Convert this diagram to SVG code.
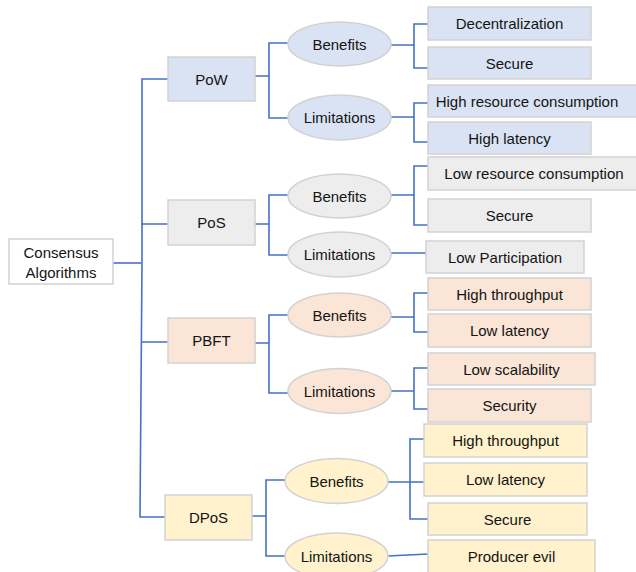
<svg xmlns="http://www.w3.org/2000/svg" width="636" height="572" viewBox="0 0 636 572">
<style>
  text { font-family: "Liberation Sans", Arial, sans-serif; font-size: 15px; fill: #141414; text-anchor: middle; dominant-baseline: central; }
  .n { stroke: #d2d2d2; stroke-width: 1.5; }
  .root { fill: #ffffff; }
  .pow { fill: #dae3f3; }
  .pos { fill: #ededed; }
  .pbft { fill: #fbe5d6; }
  .dpos { fill: #fff2cc; }
  .c { fill: none; stroke: #4472c4; stroke-width: 1.6; }
</style>
<rect width="636" height="572" fill="#ffffff"/>
<g id="connectors">
  <path class="c" d="M113,263 H141"/>
  <path class="c" d="M168,79 H142 V263 L140,517 H165"/>
  <path class="c" d="M141,224 H168 M141,342 H168"/>
  <path class="c" d="M255,76 H269 M288,43 H269 V118 H288"/>
  <path class="c" d="M255,224 H269 M288,195 H269 V255 H288"/>
  <path class="c" d="M255,343 H269 M288,315 H269 V393 H288"/>
  <path class="c" d="M252,516 H266 M285,480 H266 V556 H285"/>
  <path class="c" d="M391,45 H414 M428,24 H414 V68 H428"/>
  <path class="c" d="M391,117 H414 M428,103 H414 V142 H428"/>
  <path class="c" d="M391,195 H414 M428,166 H414 V225 H428"/>
  <path class="c" d="M391,253 H426"/>
  <path class="c" d="M391,317 H414 M428,293 H414 V332 H428"/>
  <path class="c" d="M391,391 H414 M428,368 H414 V409 H428"/>
  <path class="c" d="M388,482 H410 M424,439 H410 V519 H428 M410,482 H424"/>
  <path class="c" d="M388,556 L428,554"/>
</g>
<g id="root"><rect class="n root" x="9" y="239" width="104" height="45"/><text x="61" y="252">Consensus</text><text x="61" y="272">Algorithms</text></g>

<g id="pow"><rect class="n pow" x="168" y="57" width="87" height="44"/><text x="211.5" y="79">PoW</text></g>
<g id="pow-benefits"><ellipse class="n pow" cx="339.5" cy="44" rx="51.5" ry="22"/><text x="339.5" y="44">Benefits</text></g>
<g id="pow-limitations"><ellipse class="n pow" cx="339.5" cy="117.5" rx="51.5" ry="22.5"/><text x="339.5" y="117.5">Limitations</text></g>
<g id="pow-decentralization"><rect class="n pow" x="428" y="7" width="163" height="33"/><text x="509.5" y="23.5">Decentralization</text></g>
<g id="pow-secure"><rect class="n pow" x="428" y="47" width="163" height="32"/><text x="509.5" y="63">Secure</text></g>
<g id="pow-high-resource"><rect class="n pow" x="428" y="85" width="212" height="32"/><text x="527" y="101">High resource consumption</text></g>
<g id="pow-high-latency"><rect class="n pow" x="428" y="122" width="163" height="32"/><text x="509.5" y="138">High latency</text></g>

<g id="pos"><rect class="n pos" x="168" y="200" width="87" height="45"/><text x="211.5" y="222.5">PoS</text></g>
<g id="pos-benefits"><ellipse class="n pos" cx="339.5" cy="196" rx="51.5" ry="22"/><text x="339.5" y="196">Benefits</text></g>
<g id="pos-limitations"><ellipse class="n pos" cx="339.5" cy="254.5" rx="51.5" ry="22.5"/><text x="339.5" y="254.5">Limitations</text></g>
<g id="pos-low-resource"><rect class="n pos" x="428" y="157" width="212" height="33"/><text x="534" y="173.5">Low resource consumption</text></g>
<g id="pos-secure"><rect class="n pos" x="428" y="199" width="163" height="33"/><text x="509.5" y="215.5">Secure</text></g>
<g id="pos-low-participation"><rect class="n pos" x="426" y="241" width="158" height="32"/><text x="505" y="257">Low Participation</text></g>

<g id="pbft"><rect class="n pbft" x="168" y="318" width="87" height="45"/><text x="211.5" y="340.5">PBFT</text></g>
<g id="pbft-benefits"><ellipse class="n pbft" cx="339.5" cy="315" rx="51.5" ry="22"/><text x="339.5" y="315">Benefits</text></g>
<g id="pbft-limitations"><ellipse class="n pbft" cx="339.5" cy="391" rx="51.5" ry="22.5"/><text x="339.5" y="391">Limitations</text></g>
<g id="pbft-high-throughput"><rect class="n pbft" x="428" y="278" width="163" height="32"/><text x="509.5" y="294">High throughput</text></g>
<g id="pbft-low-latency"><rect class="n pbft" x="428" y="314" width="163" height="33"/><text x="509.5" y="330.5">Low latency</text></g>
<g id="pbft-low-scalability"><rect class="n pbft" x="428" y="353" width="167" height="32"/><text x="511.5" y="369">Low scalability</text></g>
<g id="pbft-security"><rect class="n pbft" x="428" y="389" width="163" height="33"/><text x="509.5" y="405.5">Security</text></g>

<g id="dpos"><rect class="n dpos" x="165" y="495" width="87" height="45"/><text x="208.5" y="517.5">DPoS</text></g>
<g id="dpos-benefits"><ellipse class="n dpos" cx="336.5" cy="481" rx="51.5" ry="22.5"/><text x="336.5" y="481">Benefits</text></g>
<g id="dpos-limitations"><ellipse class="n dpos" cx="336.5" cy="556" rx="51.5" ry="23"/><text x="336.5" y="556">Limitations</text></g>
<g id="dpos-high-throughput"><rect class="n dpos" x="424" y="424" width="163" height="33"/><text x="505.5" y="440.5">High throughput</text></g>
<g id="dpos-low-latency"><rect class="n dpos" x="424" y="463" width="163" height="33"/><text x="505.5" y="479.5">Low latency</text></g>
<g id="dpos-secure"><rect class="n dpos" x="428" y="503" width="159" height="32"/><text x="507.5" y="519">Secure</text></g>
<g id="dpos-producer-evil"><rect class="n dpos" x="428" y="540" width="167" height="36"/><text x="511.5" y="556">Producer evil</text></g>
</svg>
